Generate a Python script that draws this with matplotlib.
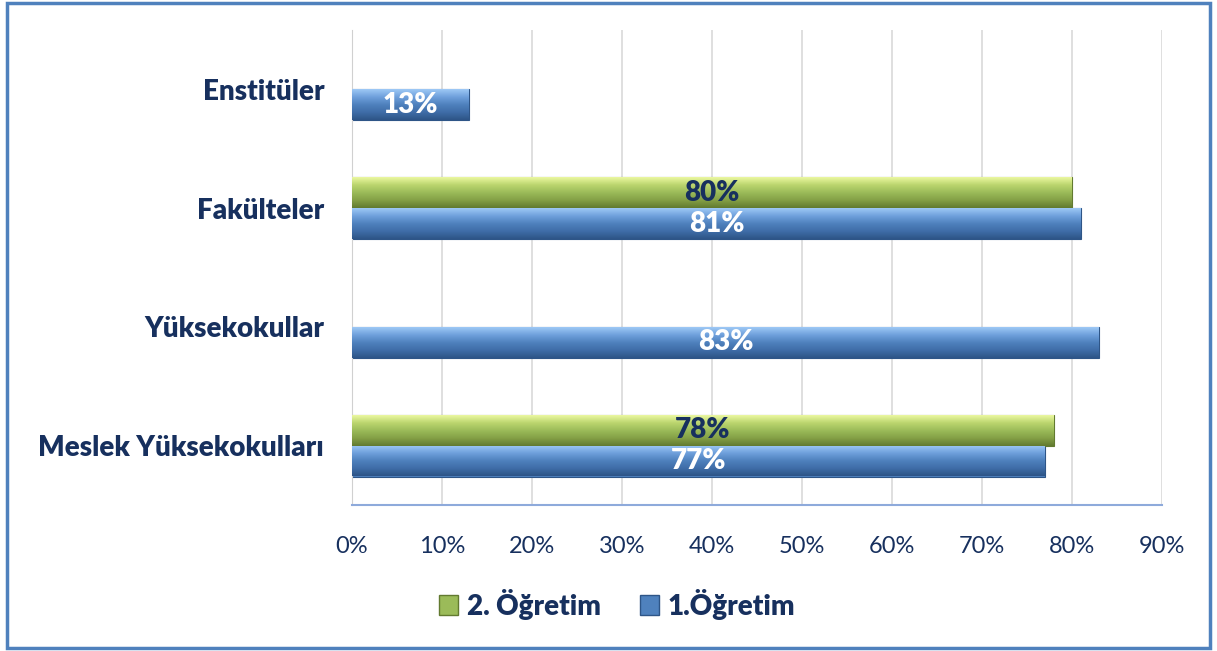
import matplotlib
matplotlib.use("Agg")
import matplotlib.pyplot as plt
import numpy as np
from matplotlib.patches import Rectangle
from matplotlib.colors import LinearSegmentedColormap

categories = ["Meslek Yüksekokulları", "Yüksekokullar", "Fakülteler", "Enstitüler"]
first_name = "1.Öğretim"
second_name = "2. Öğretim"
first_vals = [77, 83, 81, 13]
second_vals = [78, None, 80, None]
xticks = [0, 10, 20, 30, 40, 50, 60, 70, 80, 90]

plt.rcParams['font.family'] = ['Lato', 'DejaVu Sans']
navy = "#17305E"

fig = plt.figure(figsize=(12.17, 6.51), dpi=100)
ax = fig.add_axes([352/1217, 1-505/651, (1162-352)/1217, (505-30)/651])

# figure border
fig.patches.append(Rectangle((7/1217, 3/651), 1203/1217, 645/651, transform=fig.transFigure,
                             fill=False, edgecolor="#4F81BD", linewidth=2.5))

h = 0.26
y = np.arange(len(categories))

blue_cmap = LinearSegmentedColormap.from_list("b", ["#9DC8F5", "#6FA0DC", "#4F81BD", "#3F6DA8", "#2E5587"])
green_cmap = LinearSegmentedColormap.from_list("g", ["#EAF7A0", "#BBD56E", "#9BBB59", "#84A046", "#627A30"])

def grad_bars(bars, cmap):
    grad = np.linspace(0, 1, 64).reshape(-1, 1)
    for b in bars:
        x0, y0 = b.get_x(), b.get_y()
        w, hh = b.get_width(), b.get_height()
        im = ax.imshow(grad, cmap=cmap, aspect="auto",
                       extent=(x0, x0 + w, y0, y0 + hh), zorder=3, origin="upper")
        im.set_clip_path(b)

label_kw = dict(ha="center", va="center", fontsize=20, fontweight="heavy", zorder=5)

# first (blue) bars
b1 = ax.barh(y - h/2, first_vals, height=h, color="#4F81BD", edgecolor="#2E5587",
             linewidth=0.8, zorder=2)
grad_bars(b1, blue_cmap)
for b, v in zip(b1, first_vals):
    ax.text(v/2, b.get_y() + b.get_height()/2, f"{v}%", color="white", **label_kw)

# second (green) bars
ys2 = [yy + h/2 for yy, v in zip(y, second_vals) if v is not None]
vs2 = [v for v in second_vals if v is not None]
b2 = ax.barh(ys2, vs2, height=h, color="#9BBB59", edgecolor="#627A30",
             linewidth=0.8, zorder=2)
grad_bars(b2, green_cmap)
for b, v in zip(b2, vs2):
    ax.text(v/2, b.get_y() + b.get_height()/2, f"{v}%", color=navy, **label_kw)

ax.set_xlim(0, 90)
ax.set_ylim(-0.5, len(categories) - 0.5)
ax.set_xticks(xticks)
ax.set_xticklabels([f"{t}%" for t in xticks], color=navy, fontsize=17)
ax.set_yticks(y)
ax.set_yticklabels(categories, color=navy, fontsize=20, fontweight="heavy")
ax.tick_params(axis="both", length=0)
ax.tick_params(axis="x", pad=22)
ax.tick_params(axis="y", pad=20)
ax.xaxis.grid(True, color="#D9D9D9", linewidth=1.2, zorder=0)
ax.set_axisbelow(True)
for s in ["top", "right"]:
    ax.spines[s].set_visible(False)
ax.spines["left"].set_color("#D0D0D0")
ax.spines["bottom"].set_color("#8EAADB")
ax.spines["bottom"].set_linewidth(1.5)

# legend
handles = [Rectangle((0, 0), 1, 1, facecolor="#9BBB59", edgecolor="#627A30"),
           Rectangle((0, 0), 1, 1, facecolor="#4F81BD", edgecolor="#2E5587")]
leg = fig.legend(handles, [second_name, first_name], loc="center",
                 bbox_to_anchor=(617/1217, 1-604/651), ncol=2, frameon=False,
                 prop={"size": 20, "weight": "heavy"}, handlelength=0.7, handleheight=0.7,
                 handletextpad=0.3, columnspacing=1.4)
for t in leg.get_texts():
    t.set_color(navy)

fig.savefig("out.png", dpi=100)
